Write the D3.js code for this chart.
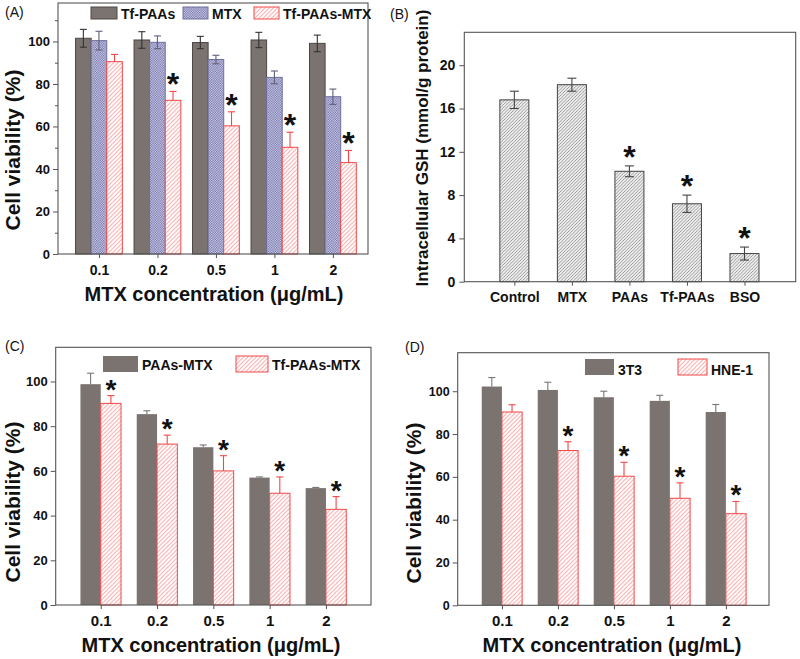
<!DOCTYPE html>
<html><head><meta charset="utf-8">
<script src="https://cdn.jsdelivr.net/npm/d3@7"></script>
<style>
body{margin:0;background:#fff}
text{font-family:Arial,"Liberation Sans",Helvetica,sans-serif}
</style>
</head><body>
<svg id="c" width="800" height="659" xmlns="http://www.w3.org/2000/svg"></svg>
<script>
// ---------- data ----------
const concLabels = ["0.1", "0.2", "0.5", "1", "2"];
// Panel A
const tfPAAs = [101.5, 100.7, 99.5, 100.7, 99.1];
const tfPAAsErr = [4.2, 3.9, 2.9, 3.6, 3.9];
const mtx = [100.4, 99.6, 91.5, 83.1, 74.0];
const mtxErr = [4.4, 3.0, 2.0, 3.0, 3.6];
const tfPAAsMTX = [90.5, 72.3, 60.3, 50.2, 43.0];
const tfPAAsMTXErr = [3.4, 4.2, 6.6, 7.1, 5.7];
const sigA = [false, true, true, true, true];
// Panel B
const gshCats = ["Control", "MTX", "PAAs", "Tf-PAAs", "BSO"];
const gsh = [16.8, 18.2, 10.2, 7.2, 2.6];
const gshErr = [0.8, 0.6, 0.5, 0.8, 0.6];
const sigB = [false, false, true, true, true];
const gshTicks = [0, 4, 8, 12, 16, 20];
// Panel C
const paasMTX = [98.8, 85.4, 70.6, 57.0, 52.3];
const paasMTXErr = [4.9, 1.5, 1.0, 0.3, 0.3];
const tfPAAsMTXc = [90.2, 72.0, 60.0, 50.0, 42.8];
const tfPAAsMTXcErr = [3.5, 4.0, 6.8, 7.3, 5.7];
const sigC = [true, true, true, true, true];
// Panel D
const t3 = [102.2, 100.6, 97.2, 95.5, 90.3];
const t3Err = [4.2, 3.6, 2.8, 2.6, 3.5];
const hne1 = [90.3, 72.3, 60.3, 50.0, 42.8];
const hne1Err = [3.4, 4.1, 6.5, 7.2, 5.7];
const sigD = [false, true, true, true, true];
const viabTicks = [0, 20, 40, 60, 80, 100];
const viabMinor = [10, 30, 50, 70, 90, 110];

// ---------- setup ----------
const svg = d3.select("#c");
const defs = svg.append("defs");

function hatchPattern(id, bg, stroke, size, sw) {
  const p = defs.append("pattern").attr("id", id)
    .attr("patternUnits", "userSpaceOnUse").attr("width", size).attr("height", size);
  p.append("rect").attr("width", size).attr("height", size).attr("fill", bg);
  p.append("path")
    .attr("d", `M${-size/2},${size/2} L${size/2},${-size/2} M0,${size} L${size},0 M${size/2},${size*1.5} L${size*1.5},${size/2}`)
    .attr("stroke", stroke).attr("stroke-width", sw);
}
hatchPattern("redHatch", "#fff", "#f6a3a3", 4.2, 1);
hatchPattern("greyHatch", "#ececec", "#8c8c8c", 3.2, 0.8);
{
  const p = defs.append("pattern").attr("id", "dots")
    .attr("patternUnits", "userSpaceOnUse").attr("width", 2.4).attr("height", 2.4);
  p.append("rect").attr("width", 2.4).attr("height", 2.4).attr("fill", "#d9d9ee");
  p.append("rect").attr("x", 0).attr("y", 0).attr("width", 1.2).attr("height", 1.2).attr("fill", "#6a6aa6");
  p.append("rect").attr("x", 1.2).attr("y", 1.2).attr("width", 1.2).attr("height", 1.2).attr("fill", "#6a6aa6");
}

const GREY = "#7b7370";
const RED = "#f04848";

function styleAxis(sel, color, fs) {
  sel.select(".domain").remove();
  sel.selectAll(".tick line").attr("stroke", color);
  sel.selectAll(".tick text").attr("fill", "#111").attr("font-size", fs)
    .attr("font-weight", "bold").attr("font-family", "Arial, 'Liberation Sans', sans-serif");
}

function drawPanel(cfg) {
  const g = svg.append("g");
  const x = d3.scaleLinear().domain(cfg.xDomain).range([cfg.left, cfg.right]);
  const y = d3.scaleLinear().domain(cfg.yDomain).range([cfg.bottom, cfg.top]);
  const n = cfg.series.length;

  cfg.series.forEach((s, si) => {
    const off = (si - (n - 1) / 2) * cfg.barW;
    const cx = i => x(i) + off;
    g.append("g").selectAll("rect").data(s.values).join("rect")
      .attr("x", (d, i) => cx(i) - cfg.barW / 2)
      .attr("y", d => y(d))
      .attr("width", cfg.barW)
      .attr("height", d => y(0) - y(d))
      .attr("fill", s.fill).attr("stroke", s.stroke || "none").attr("stroke-width", 1);
    // error bars
    const eg = g.append("g").attr("stroke", s.errColor).attr("stroke-width", 1.1).attr("fill", "none");
    s.values.forEach((v, i) => {
      const e = s.err[i];
      const lo = s.errMode === "both" ? v - e : v;
      eg.append("line").attr("x1", cx(i)).attr("x2", cx(i)).attr("y1", y(lo)).attr("y2", y(v + e));
      eg.append("line").attr("x1", cx(i) - cfg.cap).attr("x2", cx(i) + cfg.cap).attr("y1", y(v + e)).attr("y2", y(v + e));
      if (s.errMode === "both")
        eg.append("line").attr("x1", cx(i) - cfg.cap).attr("x2", cx(i) + cfg.cap).attr("y1", y(lo)).attr("y2", y(lo));
    });
    if (s.sig) {
      const stars = s.values.map((v, i) => ({ v, e: s.err[i], i })).filter(d => s.sig[d.i]);
      g.append("g").selectAll("text").data(stars).join("text")
        .attr("x", d => cx(d.i))
        .attr("y", d => y(d.v + d.e) + cfg.starDy)
        .attr("text-anchor", "middle").attr("font-weight", "bold")
        .attr("font-size", cfg.starFs).attr("fill", "#111").text("*");
    }
  });

  // frame
  g.append("rect").attr("x", cfg.left).attr("y", cfg.top)
    .attr("width", cfg.right - cfg.left).attr("height", cfg.bottom - cfg.top)
    .attr("fill", "none").attr("stroke", cfg.frameColor).attr("stroke-width", 1.1);

  // axes
  const ya = g.append("g").attr("transform", `translate(${cfg.left},0)`)
    .call(d3.axisLeft(y).tickValues(cfg.yTicks).tickSize(5).tickPadding(cfg.yPad));
  styleAxis(ya, cfg.frameColor, cfg.tickFs);
  if (cfg.yMinor) {
    const ym = g.append("g").attr("transform", `translate(${cfg.left},0)`)
      .call(d3.axisLeft(y).tickValues(cfg.yMinor).tickSize(3).tickFormat(""));
    styleAxis(ym, cfg.frameColor, cfg.tickFs);
  }
  const xa = g.append("g").attr("transform", `translate(0,${cfg.bottom})`)
    .call(d3.axisBottom(x).tickValues(d3.range(cfg.cats.length)).tickFormat(i => cfg.cats[i])
      .tickSize(4).tickPadding(cfg.xPad));
  styleAxis(xa, cfg.frameColor, cfg.catFs);

  // titles
  if (cfg.xTitle) {
    g.append("text").attr("x", cfg.xTitle.x).attr("y", cfg.xTitle.y)
      .attr("text-anchor", "middle").attr("font-weight", "bold")
      .attr("font-size", cfg.xTitle.fs).attr("fill", "#111").text(cfg.xTitle.text);
  }
  g.append("text").attr("transform", `translate(${cfg.yTitle.x},${cfg.yTitle.y}) rotate(-90)`)
    .attr("text-anchor", "middle").attr("font-weight", "bold")
    .attr("font-size", cfg.yTitle.fs).attr("fill", "#111").text(cfg.yTitle.text);
  g.append("text").attr("x", cfg.label.x).attr("y", cfg.label.y)
    .attr("font-size", 14).attr("fill", "#111").text(cfg.label.text);

  // legend
  if (cfg.legend) {
    cfg.legend.forEach((l, li) => {
      const s = cfg.series[li];
      g.append("rect").attr("x", l.x).attr("y", cfg.legendY)
        .attr("width", l.w).attr("height", cfg.legendH)
        .attr("fill", s.fill).attr("stroke", s.stroke || "none").attr("stroke-width", 1);
      g.append("text").attr("x", l.x + l.w + 4).attr("y", cfg.legendBase)
        .attr("font-weight", "bold").attr("font-size", 14).attr("fill", "#111").text(s.name);
    });
  }
}

const xTitleText = "MTX concentration (\u03BCg/mL)";
const viabTitle = "Cell viability (%)";

// Panel A
drawPanel({
  left: 58, right: 368, top: 3, bottom: 254,
  xDomain: [-0.70, 4.60], yDomain: [0, 118.1],
  barW: 15.6, cap: 3.5, starFs: 32, starDy: 4,
  cats: concLabels, yTicks: viabTicks, yMinor: viabMinor,
  tickFs: 13, catFs: 14, yPad: 3, xPad: 7, frameColor: "#555",
  series: [
    { name: "Tf-PAAs", values: tfPAAs, err: tfPAAsErr, fill: GREY, stroke: "#4d4643", errColor: "#333", errMode: "both" },
    { name: "MTX", values: mtx, err: mtxErr, fill: "url(#dots)", stroke: "#6f6f9c", errColor: "#606078", errMode: "both" },
    { name: "Tf-PAAs-MTX", values: tfPAAsMTX, err: tfPAAsMTXErr, fill: "url(#redHatch)", stroke: RED, errColor: RED, errMode: "up", sig: sigA }
  ],
  legend: [{ x: 91, w: 26 }, { x: 183, w: 25 }, { x: 254, w: 25 }],
  legendY: 7, legendH: 12, legendBase: 18.5,
  xTitle: { x: 214, y: 301, fs: 20, text: xTitleText },
  yTitle: { x: 20, y: 150, fs: 21, text: viabTitle },
  label: { x: 5, y: 17, text: "(A)" }
});

// Panel B
drawPanel({
  left: 464.3, right: 795.7, top: 32.3, bottom: 281.7,
  xDomain: [-0.87, 4.89], yDomain: [0, 23.04],
  barW: 29, cap: 4.5, starFs: 32, starDy: 2,
  cats: gshCats, yTicks: gshTicks, yMinor: null,
  tickFs: 14, catFs: 14, yPad: 4, xPad: 6, frameColor: "#555",
  series: [
    { name: "GSH", values: gsh, err: gshErr, fill: "url(#greyHatch)", stroke: "#444", errColor: "#444", errMode: "both", sig: sigB }
  ],
  legend: null,
  xTitle: null,
  yTitle: { x: 428, y: 148, fs: 17, text: "Intracellular GSH (mmol/g protein)" },
  label: { x: 390, y: 19, text: "(B)" }
});

// Panel C
drawPanel({
  left: 55.7, right: 371, top: 347.3, bottom: 605,
  xDomain: [-0.80, 4.80], yDomain: [0, 115.3],
  barW: 20.3, cap: 3.5, starFs: 28, starDy: 3,
  cats: concLabels, yTicks: viabTicks, yMinor: null,
  tickFs: 13, catFs: 15, yPad: 3, xPad: 6, frameColor: "#555",
  series: [
    { name: "PAAs-MTX", values: paasMTX, err: paasMTXErr, fill: GREY, stroke: null, errColor: "#777", errMode: "up" },
    { name: "Tf-PAAs-MTX", values: tfPAAsMTXc, err: tfPAAsMTXcErr, fill: "url(#redHatch)", stroke: RED, errColor: RED, errMode: "up", sig: sigC }
  ],
  legend: [{ x: 103, w: 35 }, { x: 236, w: 32 }],
  legendY: 356, legendH: 16, legendBase: 370,
  xTitle: { x: 211, y: 652, fs: 20, text: xTitleText },
  yTitle: { x: 20, y: 502, fs: 21, text: viabTitle },
  label: { x: 5, y: 351, text: "(C)" }
});

// Panel D
drawPanel({
  left: 457.7, right: 769, top: 352.7, bottom: 605.3,
  xDomain: [-0.79, 4.77], yDomain: [0, 118],
  barW: 20.2, cap: 3.5, starFs: 28, starDy: 3,
  cats: concLabels, yTicks: viabTicks, yMinor: null,
  tickFs: 12.5, catFs: 15, yPad: 3, xPad: 6, frameColor: "#555",
  series: [
    { name: "3T3", values: t3, err: t3Err, fill: GREY, stroke: null, errColor: "#777", errMode: "up" },
    { name: "HNE-1", values: hne1, err: hne1Err, fill: "url(#redHatch)", stroke: RED, errColor: RED, errMode: "up", sig: sigD }
  ],
  legend: [{ x: 585, w: 29 }, { x: 678, w: 29 }],
  legendY: 359, legendH: 16, legendBase: 375,
  xTitle: { x: 612, y: 652, fs: 20, text: xTitleText },
  yTitle: { x: 421, y: 503, fs: 21, text: viabTitle },
  label: { x: 405, y: 352, text: "(D)" }
});
</script>
</body></html>
